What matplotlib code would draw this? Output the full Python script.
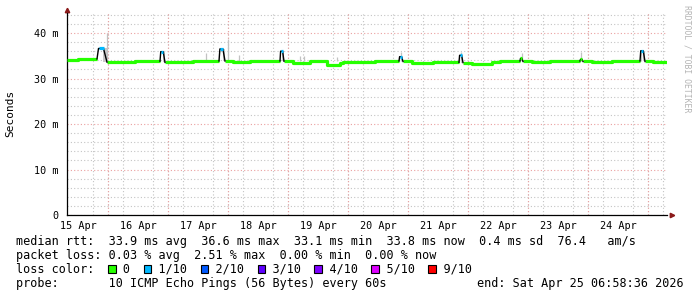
import numpy as np
import matplotlib.pyplot as plt
from matplotlib.patches import Rectangle
from matplotlib.ticker import MultipleLocator

plt.rcParams["font.family"] = ["DejaVu Sans Mono", "DejaVu Sans"]

nan = float("nan")

# x values are hours since 15 Apr 00:00
day_labels = ["15 Apr", "16 Apr", "17 Apr", "18 Apr", "19 Apr",
              "20 Apr", "21 Apr", "22 Apr", "23 Apr", "24 Apr"]
y_tick_values = [0, 10, 20, 30, 40]
y_tick_labels = ["0", "10 m", "20 m", "30 m", "40 m"]

# median rtt (ms), step series; nan where a spike is drawn instead
median_hours = [7.6, 12.0, 19.6, 23.6, 34.8, 44.8, 46.8, 58.0, 68.4, 70.8,
                74.0, 80.8, 92.8, 94.4, 98.0, 104.8, 111.6, 116.8, 118.0, 121.6,
                130.8, 140.4, 142.0, 145.6, 154.0, 160.8, 164.4, 166.0, 169.6, 177.6,
                180.8, 188.8, 190.0, 193.6, 200.8, 212.8, 214.0, 217.6, 225.6, 236.8,
                238.8, 242.0]
median_ms = [34.05, 34.3, nan, 33.6, 33.8, nan, 33.55, 33.85, nan, 33.85,
             33.55, 33.85, nan, 33.8, 33.5, 33.8, 33.0, 33.4, 33.6, 33.55,
             33.85, nan, 33.75, 33.5, 33.7, 33.55, nan, 33.5, 33.3, 33.55,
             33.85, nan, 33.75, 33.6, 33.85, nan, 33.75, 33.55, 33.85, nan,
             33.75, 33.55]
end_hour = 247.6

# short latency spikes
spike_start = [19.6, 44.8, 68.4, 92.8, 140.4, 164.4, 188.8, 212.8, 236.8]
spike_end = [23.6, 46.8, 70.8, 94.4, 142.0, 166.0, 190.0, 214.0, 238.8]
spike_peak = [36.6, 35.9, 36.5, 36.0, 34.8, 35.1, 34.4, 34.2, 36.1]
spike_loss = [1, 1, 1, 1, 1, 1, 0, 0, 1]

# thin smoke needles (max of the pings)
needle_hours = [23.6, 63.2, 72.0, 76.4, 100.8, 102.4, 115.6, 141.2, 165.2, 189.4, 213.2, 237.2]
needle_top = [40.0, 35.6, 38.7, 35.1, 35.0, 35.0, 34.8, 35.8, 35.8, 35.5, 35.9, 36.3]

# legend
loss_labels = ["0", "1/10", "2/10", "3/10", "4/10", "5/10", "9/10"]
loss_colors = ["#26ff00", "#00b8ff", "#0059ff", "#5e00ff", "#7e00ff", "#dd00ff", "#ff0000"]

W, H = 697, 297
fig = plt.figure(figsize=(W / 100, H / 100), dpi=100)
fig.patch.set_facecolor("white")
ax = fig.add_axes([67 / W, (H - 215) / H, 600 / W, 202 / H])

ax.set_xlim(7.6, end_hour)
ax.set_ylim(0, 44.4)

# ------------------------------------------------------------
# grid
# ------------------------------------------------------------
grid_gray = "#c4c4c4"
grid_red = "#eaa0a0"
dots = (0, (1, 2))
ax.xaxis.set_minor_locator(MultipleLocator(6))
ax.yaxis.set_minor_locator(MultipleLocator(2))
ax.set_xticks([12 + 24 * i for i in range(len(day_labels))], day_labels)
ax.set_yticks(y_tick_values, y_tick_labels)
ax.grid(which="minor", color=grid_gray, linestyle=dots, linewidth=0.8)
ax.grid(which="major", axis="y", color=grid_red, linestyle=dots, linewidth=0.8)
for d in range(1, 11):
    ax.axvline(24 * d, color=grid_red, linestyle=dots, linewidth=0.8, zorder=0.6)
ax.set_axisbelow(True)

ax.tick_params(which="both", length=0)
ax.tick_params(axis="x", pad=4, labelsize=7.3)
ax.tick_params(axis="y", pad=6, labelsize=7.3)

for side in ["top", "right"]:
    ax.spines[side].set_visible(False)
for side in ["left", "bottom"]:
    ax.spines[side].set_linewidth(0.9)

arrow_col = "#8b1a1a"
ax.plot([1.0 + 5 / 600], [0], marker=">", ms=3.2, color=arrow_col,
        transform=ax.transAxes, clip_on=False)
ax.plot([0], [1.0 + 3 / 202], marker="^", ms=3.2, color=arrow_col,
        transform=ax.transAxes, clip_on=False)

# ------------------------------------------------------------
# smoke + median
# ------------------------------------------------------------
ax.vlines(needle_hours, 33.8, needle_top, color="#c2c2c2", linewidth=0.9, zorder=2)

step_x = median_hours + [end_hour]
step_y = median_ms + [median_ms[-1]]
ax.step(step_x, step_y, where="post", color=loss_colors[0], linewidth=2.3,
        solid_capstyle="butt", zorder=3)

for t0, t1, peak, loss in zip(spike_start, spike_end, spike_peak, spike_loss):
    i = median_hours.index(t0)
    before = median_ms[i - 1]
    after = median_ms[i + 1]
    w = t1 - t0
    ax.fill_between([t1 - 0.4 * w, t1], [after, after], [peak, peak],
                    color="#c8c8c8", linewidth=0, zorder=2)
    ax.plot([t0, t0 + 0.15 * w, t1 - 0.35 * w, t1], [before, peak, peak, after],
            color="black", linewidth=1.0, zorder=4)
    ax.plot([t0 + 0.15 * w, t1 - 0.35 * w], [peak, peak],
            color=loss_colors[loss], linewidth=2.3, solid_capstyle="butt", zorder=5)

# ------------------------------------------------------------
# labels and legend text
# ------------------------------------------------------------
fig.text(10 / W, 1 - 113 / H, "Seconds", rotation=90, ha="center", va="center", fontsize=8)
fig.text(687 / W, 1 - 59 / H, "RRDTOOL / TOBI OETIKER", rotation=270,
         ha="center", va="center", fontsize=5.9, color="#b4b4b4")

fs = 8.5
cw = 7.107  # char width in px for DejaVu Sans Mono at 8.5pt
x0 = 15.5


def row(text, y_px, col=0):
    fig.text((x0 + col * cw) / W, 1 - y_px / H, text, fontsize=fs,
             ha="left", va="center")


row("median rtt:  33.9 ms avg  36.6 ms max  33.1 ms min  33.8 ms now  0.4 ms sd  76.4   am/s", 241)
row("packet loss: 0.03 % avg  2.51 % max  0.00 % min  0.00 % now", 255)

loss_line = "loss color:  "
box_cols = []
for lab in loss_labels:
    box_cols.append(len(loss_line))
    loss_line += "  " + lab + "  "
row(loss_line.rstrip(), 269)
for c, colr in zip(box_cols, loss_colors):
    fig.add_artist(Rectangle(((x0 + c * cw + 0.5) / W, 1 - 273 / H), 7.5 / W, 8.5 / H,
                             facecolor=colr, edgecolor="black", linewidth=0.8,
                             transform=fig.transFigure))

row("probe:       10 ICMP Echo Pings (56 Bytes) every 60s", 283)
row("end: Sat Apr 25 06:58:36 2026", 283, col=65)

fig.savefig("out.png", dpi=100, facecolor="white")
